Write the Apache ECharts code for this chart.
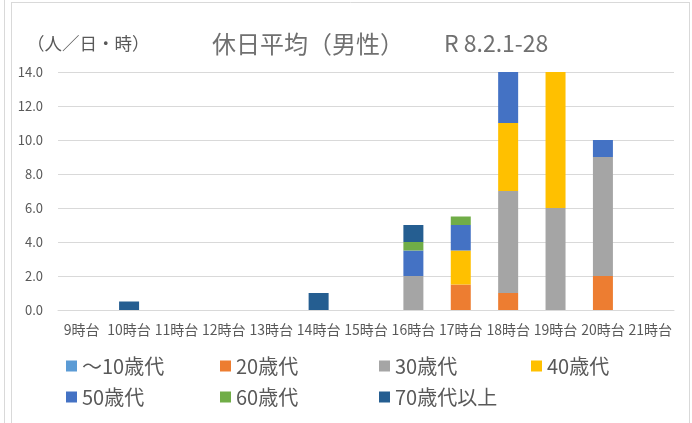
<!DOCTYPE html>
<html>
<head>
<meta charset="utf-8">
<script src="https://cdn.jsdelivr.net/npm/echarts@6/dist/echarts.min.js"></script>
<style>
  html, body { margin: 0; padding: 0; background: #fff; }
  #chart { width: 692px; height: 423px; }
</style>
</head>
<body>
<div id="chart"></div>
<script>
const hours = ['9時台', '10時台', '11時台', '12時台', '13時台', '14時台', '15時台',
  '16時台', '17時台', '18時台', '19時台', '20時台', '21時台'];
const seriesNames = ['～10歳代', '20歳代', '30歳代', '40歳代', '50歳代', '60歳代', '70歳代以上'];
const age10 = [0, 0, 0, 0, 0, 0, 0, 0, 0, 0, 0, 0, 0];
const age20 = [0, 0, 0, 0, 0, 0, 0, 0, 1.5, 1, 0, 2, 0];
const age30 = [0, 0, 0, 0, 0, 0, 0, 2, 0, 6, 6, 7, 0];
const age40 = [0, 0, 0, 0, 0, 0, 0, 0, 2, 4, 8, 0, 0];
const age50 = [0, 0, 0, 0, 0, 0, 0, 1.5, 1.5, 3, 0, 1, 0];
const age60 = [0, 0, 0, 0, 0, 0, 0, 0.5, 0.5, 0, 0, 0, 0];
const age70 = [0, 0.5, 0, 0, 0, 1, 0, 1, 0, 0, 0, 0, 0];
const yTicks = [0, 2, 4, 6, 8, 10, 12, 14];

const colors = ['#5B9BD5', '#ED7D31', '#A5A5A5', '#FFC000', '#4472C4', '#70AD47', '#255E91'];
const allData = [age10, age20, age30, age40, age50, age60, age70];
const font = '"Noto Sans CJK JP", "Noto Sans", sans-serif';
const textColor = '#595959';

// legend is laid out by hand: 4 items on the first row, 3 on the second
const legendPos = [[66, 356], [220, 356], [379, 356], [531, 356], [66, 387], [220, 387], [379, 387]];

const option = {
  animation: false,
  color: colors,
  textStyle: { fontFamily: font },
  title: [
    {
      text: '（人／日・時）',
      left: 27, top: 35, padding: 0,
      textStyle: { fontSize: 17.5, fontWeight: 'normal', color: textColor, fontFamily: font },
    },
    {
      text: '休日平均（男性）',
      left: 212, top: 32, padding: 0,
      textStyle: { fontSize: 24, fontWeight: 'normal', color: '#707070', fontFamily: font },
    },
    {
      text: 'R 8.2.1-28',
      left: 444, top: 32, padding: 0,
      textStyle: { fontSize: 23, fontWeight: 'normal', color: '#707070', fontFamily: font },
    },
  ],
  legend: seriesNames.map((name, i) => ({
    data: [name],
    left: legendPos[i][0],
    top: legendPos[i][1],
    padding: 0,
    icon: 'rect',
    itemWidth: 11,
    itemHeight: 11,
    selectedMode: false,
    textStyle: { fontSize: 20, color: textColor, fontFamily: font },
  })),
  grid: {
    left: 58,
    right: 18,
    top: 72,
    bottom: 113,
  },
  xAxis: {
    type: 'category',
    data: hours,
    axisLine: { lineStyle: { color: '#d9d9d9' } },
    axisTick: { show: false },
    axisLabel: {
      interval: 0,
      fontSize: 14,
      color: textColor,
      margin: 13,
    },
  },
  yAxis: {
    type: 'value',
    min: yTicks[0],
    max: yTicks[yTicks.length - 1],
    interval: 2,
    axisLine: { show: false },
    axisTick: { show: false },
    splitLine: { lineStyle: { color: '#d9d9d9' } },
    axisLabel: {
      fontSize: 13,
      color: textColor,
      margin: 15,
      formatter: v => v.toFixed(1),
    },
  },
  graphic: [
    { type: 'line', shape: { x1: 4.5, y1: 0, x2: 4.5, y2: 423 }, style: { stroke: '#d9d9d9', lineWidth: 1 } },
    { type: 'line', shape: { x1: 11.5, y1: 2, x2: 11.5, y2: 423 }, style: { stroke: '#d9d9d9', lineWidth: 1 } },
    { type: 'line', shape: { x1: 11, y1: 2.5, x2: 690, y2: 2.5 }, style: { stroke: '#d9d9d9', lineWidth: 1 } },
    { type: 'line', shape: { x1: 689.5, y1: 2, x2: 689.5, y2: 423 }, style: { stroke: '#d9d9d9', lineWidth: 1 } },
  ],
  series: seriesNames.map((name, i) => ({
    name,
    type: 'bar',
    stack: 'total',
    barWidth: 20,
    itemStyle: { color: colors[i] },
    data: allData[i],
  })),
};

echarts.init(document.getElementById('chart')).setOption(option);
</script>
</body>
</html>
